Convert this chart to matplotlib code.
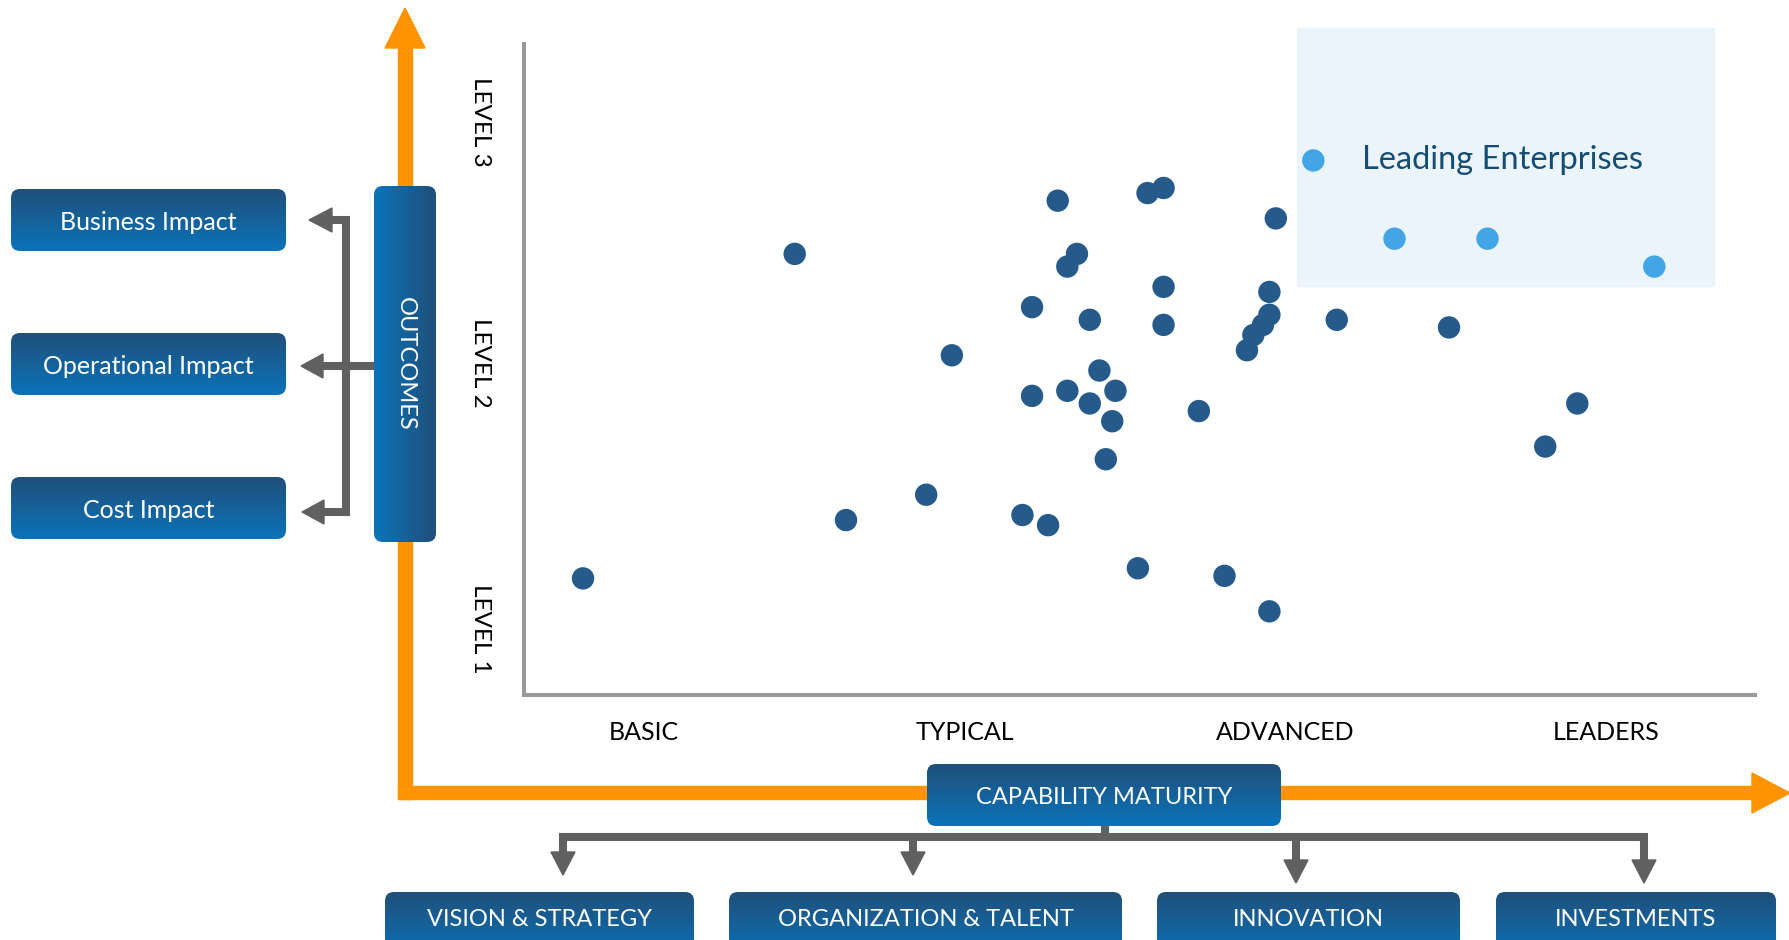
import numpy as np
import matplotlib
matplotlib.use('Agg')
import matplotlib.pyplot as plt
from matplotlib.patches import FancyBboxPatch, Rectangle, Polygon

plt.rcParams['font.family'] = ['Lato', 'DejaVu Sans']

# capability maturity (1=basic .. 4=leaders) and outcome level (1..3) per enterprise
maturity = [0.81, 1.47, 1.63, 1.88, 1.96, 2.18, 2.26, 2.21, 2.21, 2.29,
            2.32, 2.35, 2.32, 2.39, 2.39, 2.42, 2.47, 2.46, 2.44, 2.54,
            2.57, 2.62, 2.62, 2.62, 2.73, 2.81, 2.95, 2.88, 2.90, 2.93,
            2.95, 2.95, 2.97, 3.16, 3.51, 3.81, 3.91]
level = [1.20, 2.48, 1.43, 1.53, 2.08, 1.45, 1.41, 2.27, 1.92, 2.69,
         2.43, 2.48, 1.94, 2.22, 1.89, 2.02, 1.94, 1.82, 1.67, 1.24,
         2.72, 2.74, 2.35, 2.20, 1.86, 1.21, 1.07, 2.10, 2.16, 2.20,
         2.24, 2.33, 2.62, 2.22, 2.19, 1.72, 1.89]
leader_maturity = [3.34, 3.63, 4.15]
leader_level = [2.54, 2.54, 2.43]

maturity_labels = ['BASIC', 'TYPICAL', 'ADVANCED', 'LEADERS']
level_labels = ['LEVEL 1', 'LEVEL 2', 'LEVEL 3']
level_pos = [1.0, 2.05, 3.0]
outcome_boxes = ['Business Impact', 'Operational Impact', 'Cost Impact']
capability_boxes = ['VISION & STRATEGY', 'ORGANIZATION & TALENT', 'INNOVATION', 'INVESTMENTS']

DARK = '#20507A'
LIGHT = '#0B73BA'
ORANGE = '#FF9300'
GREY = '#606060'

W, H = 1790, 940
fig = plt.figure(figsize=(W / 100, H / 100), dpi=100)
bg = fig.add_axes([0, 0, 1, 1])
bg.axis('off')


def grad_box(x0, y0, x1, y1, text, fs, horizontal=False, rot=0, ty=None):
    patch = FancyBboxPatch((x0, y0), x1 - x0, y1 - y0,
                           boxstyle='round,pad=0,rounding_size=9',
                           facecolor='none', edgecolor='none')
    bg.add_patch(patch)
    c0 = np.array(matplotlib.colors.to_rgb(DARK))
    c1 = np.array(matplotlib.colors.to_rgb(LIGHT))
    t = np.linspace(0, 1, 100)
    if horizontal:
        img = (c1[None, :] * (1 - t[:, None]) + c0[None, :] * t[:, None])[None, :, :]
    else:
        img = (c0[None, :] * (1 - t[:, None]) + c1[None, :] * t[:, None])[:, None, :]
    im = bg.imshow(img, extent=(x0, x1, y1, y0), aspect='auto', zorder=3)
    im.set_clip_path(patch)
    if ty is None:
        ty = (y0 + y1) / 2
    bg.text((x0 + x1) / 2, ty, text, color='white', fontsize=fs,
            ha='center', va='center_baseline' if rot == 0 else 'center',
            rotation=rot, zorder=4)


# orange axes arrows
bg.add_patch(Rectangle((398, 46), 14, 753, color=ORANGE, zorder=1))
bg.add_patch(Rectangle((398, 786), 1356, 13, color=ORANGE, zorder=1))
bg.add_patch(Polygon([(385, 48), (425, 48), (405, 8)], color=ORANGE, zorder=1))
bg.add_patch(Polygon([(1752, 773), (1752, 813), (1790, 793)], color=ORANGE, zorder=1))

# leading enterprises highlight
bg.add_patch(Rectangle((1297, 28), 417, 258, color='#EBF4FB', zorder=0))

# outcome side
grad_box(374, 186, 436, 542, 'OUTCOMES', 17, horizontal=True, rot=-90)
box_y = [(189, 251), (333, 395), (477, 539)]
for (y0, y1), name in zip(box_y, outcome_boxes):
    grad_box(11, y0, 286, y1, name, 18)
lw = 5.8
bg.plot([332, 346, 346, 324], [220, 220, 512, 512], color=GREY, lw=lw,
        solid_joinstyle='miter', solid_capstyle='butt', zorder=2)
bg.plot([374, 323], [366, 366], color=GREY, lw=lw, solid_capstyle='butt', zorder=2)
for tip, base, y in [(309, 332, 220), (301, 323, 366), (302, 324, 512)]:
    bg.add_patch(Polygon([(tip, y), (base, y - 12), (base, y + 12)], color=GREY, zorder=2))

# capability side
grad_box(927, 764, 1281, 826, 'CAPABILITY MATURITY', 17)
bg.plot([1105, 1105], [826, 837], color=GREY, lw=lw, solid_capstyle='butt', zorder=2)
bg.plot([559, 1648], [837, 837], color=GREY, lw=lw, solid_capstyle='butt', zorder=2)
for x, base, tip in [(563, 852, 875), (913, 852, 875), (1296, 860, 883), (1644, 860, 883)]:
    bg.plot([x, x], [837, base], color=GREY, lw=lw, solid_capstyle='butt', zorder=2)
    bg.add_patch(Polygon([(x, tip), (x - 12, base), (x + 12, base)], color=GREY, zorder=2))
cap_x = [(385, 694), (729, 1122), (1157, 1460), (1496, 1776)]
for (x0, x1), name in zip(cap_x, capability_boxes):
    grad_box(x0, 892, x1, 960, name, 17, ty=917)

bg.set_xlim(0, W)
bg.set_ylim(H, 0)

# scatter panel
ax = fig.add_axes([524 / W, (H - 695) / H, (1755 - 524) / W, (695 - 44) / H])
ax.patch.set_alpha(0)
ax.scatter(maturity, level, s=260, color='#255A8A', edgecolors='none', zorder=3)
leaders = ax.scatter(leader_maturity, leader_level, s=260, color='#42A5E5',
                     edgecolors='none', zorder=3, label='Leading Enterprises')
ax.set_xlim(0.626, 4.464)
ax.set_ylim(0.74, 3.308)
for side in ['top', 'right']:
    ax.spines[side].set_visible(False)
for side in ['left', 'bottom']:
    ax.spines[side].set_color('#999999')
    ax.spines[side].set_linewidth(2.9)
ax.set_xticks(range(1, 5), maturity_labels, fontsize=18)
ax.set_yticks(level_pos, level_labels, fontsize=17.5, rotation=-90, va='center')
ax.tick_params(axis='x', length=0, pad=19)
ax.tick_params(axis='y', length=0, pad=24)

leg = ax.legend(handles=[leaders], loc='center left', bbox_to_anchor=(1297, 160),
                bbox_transform=bg.transData, frameon=False, fontsize=23.5,
                handlelength=1.0, handletextpad=1.0, borderpad=0, borderaxespad=0,
                scatterpoints=1)
for t in leg.get_texts():
    t.set_color('#144D73')

fig.savefig('out.png', dpi=100)
